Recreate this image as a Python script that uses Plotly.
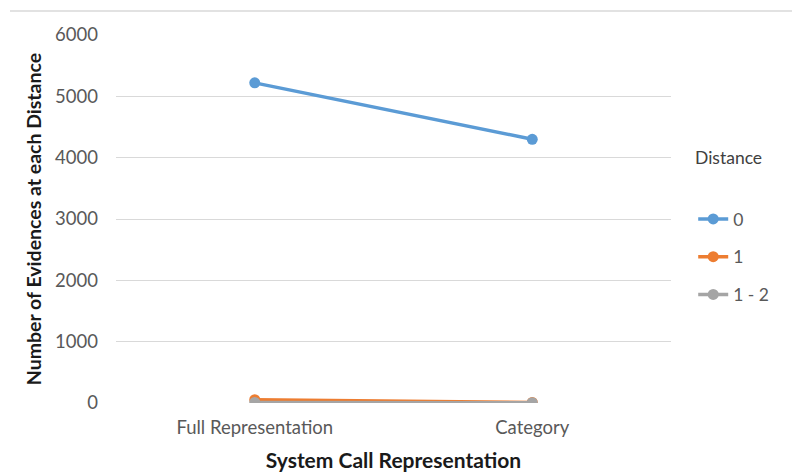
import plotly.graph_objects as go

categories = ["Full Representation", "Category"]
series_names = ["0", "1", "1 - 2"]
dist0 = [5220, 4300]
dist1 = [55, 10]
dist12 = [8, 4]
colors = ["#5B9BD5", "#ED7D31", "#A5A5A5"]
y_ticks = [0, 1000, 2000, 3000, 4000, 5000, 6000]

FONT = "Lato"
TICK = dict(family=FONT, size=18.5, color="#595959")
LEG = dict(family=FONT, size=17.5, color="#595959")
XTITLE = dict(family=FONT, size=21, color="#1a1a1a")
YTITLE = dict(family=FONT, size=19.5, color="#1a1a1a")

fig = go.Figure()
for i, (name, vals) in enumerate(zip(series_names, [dist0, dist1, dist12])):
    fig.add_trace(go.Scatter(
        x=categories, y=vals, name=name, mode="lines+markers",
        line=dict(color=colors[i], width=3.5),
        marker=dict(color=colors[i], size=11),
        legendgroup=name,
    ))

fig.update_layout(
    width=792, height=473,
    margin=dict(l=116, r=121, t=35, b=70, autoexpand=False),
    paper_bgcolor="white", plot_bgcolor="white",
    font=TICK,
    showlegend=True,
    legend=dict(
        x=1.04, y=(403 - 201) / 368, xanchor="left", yanchor="top",
        tracegroupgap=12, itemwidth=30,
        font=LEG,
    ),
    xaxis=dict(
        type="category", range=[-0.5, 1.5], automargin=False,
        showgrid=False, showline=False, zeroline=False,
        ticks="", ticklabelstandoff=11, tickfont=TICK,
        title=dict(text="<b>System Call Representation</b>", font=XTITLE, standoff=16),
    ),
    yaxis=dict(
        range=[0, 6000], tickvals=y_ticks, showgrid=True, automargin=False,
        gridcolor="#D9D9D9", gridwidth=1, zeroline=False, showline=False,
        ticks="", ticklabelstandoff=17, tickfont=TICK,
        title=dict(text="<b>Number of Evidences at each Distance</b>", font=YTITLE, standoff=8),
    ),
)

fig.add_annotation(
    text="Distance", xref="paper", yref="paper",
    x=1.04, y=(403 - 157) / 368, xanchor="left", yanchor="middle",
    showarrow=False, font=dict(family=FONT, size=17.5, color="#404040"),
)

# thin border along the top of the chart area
fig.add_shape(
    type="line", xref="paper", yref="paper",
    x0=(10 - 116) / 555, x1=(792 - 116) / 555,
    y0=1 + (35 - 11) / 368, y1=1 + (35 - 11) / 368,
    line=dict(color="#D9D9D9", width=1.5),
)

fig.write_html("out.html")
